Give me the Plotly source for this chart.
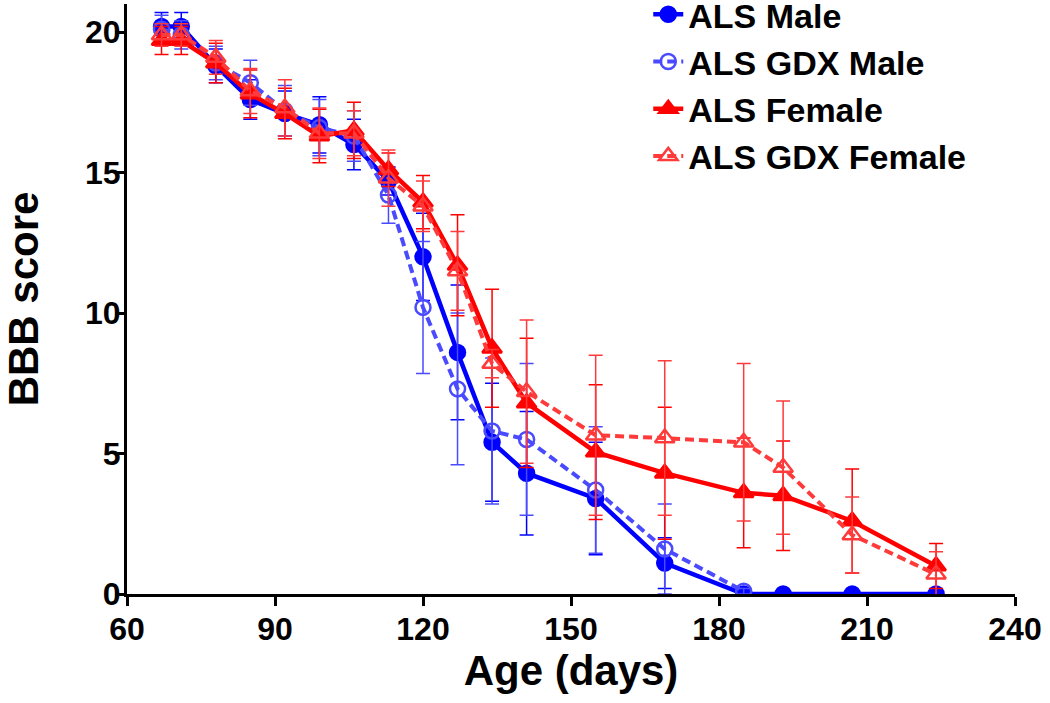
import plotly.graph_objects as go

days = [67, 71, 78, 85, 92, 99, 106, 113, 120, 127, 134, 141, 155, 169, 185, 193, 207, 224]

als_male = [20.2, 20.2, 18.8, 17.6, 17.1, 16.7, 16.0, 14.7, 12.0, 8.6, 5.4, 4.3, 3.4, 1.1, 0, 0, 0, 0]
als_male_err = [0.5, 0.5, 0.6, 0.7, 0.8, 1.0, 0.9, 0.5, 1.55, 2.4, 2.1, 2.2, 2.0, 0.9, 0, 0, 0, 0]

gdx_male_days = days[:15]
gdx_male = [20.1, 19.9, 18.9, 18.2, 17.2, 16.6, 16.3, 14.2, 10.2, 7.3, 5.8, 5.5, 3.7, 1.6, 0.1]
gdx_male_err = [0.5, 0.5, 0.6, 0.8, 0.9, 1.0, 0.9, 1.0, 2.35, 2.7, 2.6, 2.7, 2.25, 1.6, 0.1]

als_female = [19.7, 19.7, 18.9, 17.8, 17.1, 16.3, 16.5, 15.1, 13.95, 11.7, 8.75, 6.8, 5.05, 4.3, 3.6, 3.5, 2.6, 1.0]
als_female_err = [0.5, 0.5, 0.7, 0.85, 0.9, 0.95, 1.0, 0.6, 0.95, 1.8, 2.1, 2.3, 2.4, 2.35, 1.95, 1.95, 1.85, 0.8]

gdx_female = [19.9, 19.9, 19.1, 17.9, 17.3, 16.4, 16.4, 14.8, 13.8, 11.5, 8.2, 7.2, 5.65, 5.55, 5.4, 4.5, 2.1, 0.7]
gdx_female_err = [0.4, 0.4, 0.6, 0.8, 1.0, 0.9, 0.8, 1.0, 0.9, 1.4, 0.5, 2.55, 2.85, 2.75, 2.8, 2.37, 1.35, 0.8]

x_ticks = [60, 90, 120, 150, 180, 210, 240]
y_ticks = [0, 5, 10, 15, 20]

FONT = "Liberation Sans, Arial, sans-serif"
BLUE = "#0000ff"
LBLUE = "#4a4aff"
RED = "#ff0000"
LRED = "#ff3a3a"

fig = go.Figure()

def add(name, x, y, err, color, symbol, dash, group):
    fig.add_trace(go.Scatter(
        x=x, y=y, name=name, mode="lines+markers", legendgroup=group,
        line=dict(color=color, width=4.5 if dash == "solid" else 4, dash=dash),
        marker=dict(symbol=symbol, size=15 if "circle" in symbol else 17, color=color,
                    line=dict(color=color, width=2.5)),
        error_y=dict(type="data", array=err, visible=True, color=color,
                     thickness=1.5, width=7),
    ))

add("ALS Male", days, als_male, als_male_err, BLUE, "circle", "solid", "a")
add("ALS GDX Male", gdx_male_days, gdx_male, gdx_male_err, LBLUE, "circle-open", "9px,5px", "b")
add("ALS Female", days, als_female, als_female_err, RED, "triangle-up", "solid", "c")
add("ALS GDX Female", days, gdx_female, gdx_female_err, LRED, "triangle-up-open", "9px,5px", "d")

axis_common = dict(
    showline=True, linewidth=3, linecolor="black", ticks="outside", ticklen=9,
    tickwidth=3, tickcolor="black", showgrid=False, zeroline=False, automargin=False,
    tickfont=dict(family=FONT, size=32, color="black", weight="bold"),
)

fig.update_layout(
    width=1050, height=703,
    margin=dict(l=127, r=35, t=4, b=109, autoexpand=False),
    paper_bgcolor="white", plot_bgcolor="white",
    showlegend=True,
    legend=dict(x=0.587, y=1.031, xanchor="left", yanchor="top",
                traceorder="grouped", tracegroupgap=0,
                font=dict(family=FONT, size=34, color="black", weight="bold"),
                bgcolor="rgba(0,0,0,0)"),
    xaxis=dict(range=[60, 240], tickvals=x_ticks, **axis_common, ticklabelstandoff=-4,
               title=dict(text="Age (days)", standoff=4,
                          font=dict(family=FONT, size=42, color="black", weight="bold"))),
    yaxis=dict(range=[0, 21], tickvals=y_ticks, **axis_common, ticklabelstandoff=-12,
               title=dict(text="BBB score", standoff=41,
                          font=dict(family=FONT, size=42, color="black", weight="bold"))),
)

fig.write_html("out.html", config={"displayModeBar": False},
               post_script="document.body.style.margin='0';document.body.style.padding='0';")
